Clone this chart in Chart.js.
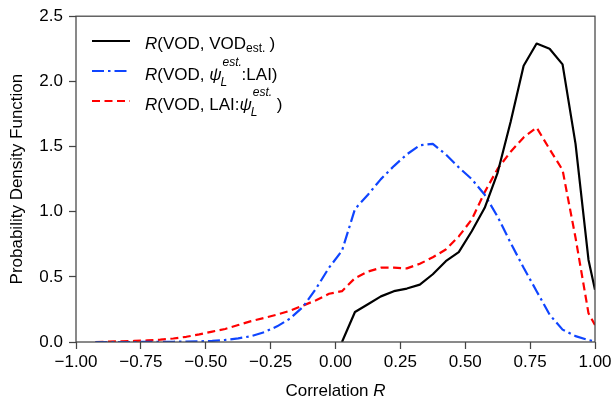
<!DOCTYPE html>
<html><head><meta charset="utf-8">
<script src="https://cdn.jsdelivr.net/npm/chart.js@4.4.0/dist/chart.umd.min.js"></script>
<style>
html,body{margin:0;padding:0;background:#fff;}
#wrap{position:relative;width:615px;height:400px;overflow:hidden;}
#c{position:absolute;left:0;top:0;}
.txt{position:absolute;font-family:'Liberation Sans',Arial,sans-serif;font-size:17px;line-height:20px;color:#000;white-space:nowrap;}
.smp{position:absolute;}
.ss{display:inline-block;position:relative;width:20px;height:10px;}
.ss span{position:absolute;left:0;font-size:12px;line-height:12px;font-style:italic;}
.ss .up{top:-14px;left:1px;}
.ss .dn{top:6px;left:-1px;}
.sb{font-size:12px;position:relative;top:3px;margin-right:4px;}
</style></head>
<body>
<div id="wrap">
<canvas id="c" width="615" height="400"></canvas>
<div id="legend"></div>
<div class="txt" style="left:76px;width:519px;top:381px;text-align:center;">Correlation <i>R</i></div>
</div>
<script>
// ---- data ----
const xs = [-0.925,-0.875,-0.825,-0.775,-0.725,-0.675,-0.625,-0.575,-0.525,-0.475,
            -0.425,-0.375,-0.325,-0.275,-0.225,-0.175,-0.125,-0.075,-0.025,0.025,
            0.075,0.125,0.175,0.225,0.275,0.325,0.375,0.425,0.475,0.525,
            0.575,0.625,0.675,0.725,0.775,0.825,0.875,0.925,0.975,1.0];
const rVodEst = [null,null,null,null,null,null,null,null,null,null,
                 null,null,null,null,null,null,null,null,null,0.0,
                 0.23,0.29,0.35,0.39,0.41,0.44,0.52,0.62,0.69,0.85,
                 1.03,1.30,1.69,2.12,2.29,2.25,2.13,1.52,0.63,0.40];
const rPsiLai = [0,0,0,0,0.001,0.001,0.002,0.003,0.005,0.009,
                 0.016,0.028,0.045,0.075,0.12,0.18,0.27,0.41,0.57,0.70,
                 1.02,1.13,1.25,1.35,1.44,1.51,1.52,1.44,1.34,1.25,
                 1.13,0.96,0.76,0.57,0.39,0.21,0.095,0.045,0.015,0.005];
const rLaiPsi = [0,0.003,0.005,0.008,0.012,0.018,0.027,0.04,0.058,0.08,
                 0.10,0.13,0.16,0.185,0.21,0.24,0.28,0.32,0.37,0.39,
                 0.49,0.54,0.57,0.57,0.565,0.60,0.65,0.71,0.81,0.94,
                 1.15,1.33,1.46,1.57,1.645,1.48,1.32,0.80,0.22,0.13];
const xTicks = [-1,-0.75,-0.5,-0.25,0,0.25,0.5,0.75,1];
const yTicks = [0,0.5,1.0,1.5,2.0,2.5];
const seriesNames = ['R(VOD, VODest.)','R(VOD, ψL est.:LAI)','R(VOD, LAI:ψL est.)'];
const seriesHtml = [
  '<i>R</i>(VOD, VOD<span class="sb">est.</span>)',
  '<i>R</i>(VOD, <i>ψ</i><span class="ss"><span class="up">est.</span><span class="dn">L</span></span>:LAI)',
  '<i>R</i>(VOD, LAI:<i>ψ</i><span class="ss" style="margin-right:5px"><span class="up">est.</span><span class="dn">L</span></span>)'
];
// ---- styles ----
const colors = ['#000000','#0f45ff','#ff0000'];
const dashes = [[], [12,4,2.5,4], [8,4.5]];
const FONT = "'Liberation Sans', Arial, sans-serif";
const AX = '#444444';
const seriesVals = [rVodEst, rPsiLai, rLaiPsi];
const fmtX = v => (v < 0 ? '\u2212' : '') + Math.abs(v).toFixed(2);

const frame = {
  id:'frame',
  afterDraw(chart){
    const {ctx, chartArea:a} = chart;
    ctx.save();
    ctx.strokeStyle = AX; ctx.lineWidth = 1.25;
    ctx.strokeRect(a.left, a.top, a.right - a.left, a.bottom - a.top);
    ctx.restore();
  }
};

new Chart(document.getElementById('c'), {
  type:'scatter',
  data:{datasets: seriesVals.map((vals,i)=>({
    label: seriesNames[i],
    data: xs.map((x,j)=>({x:x, y:vals[j]})).filter(p=>p.y!==null),
    showLine:true, borderColor:colors[i], backgroundColor:colors[i],
    borderWidth:2.2, borderDash:dashes[i], borderJoinStyle:'round',
    pointRadius:0, pointHoverRadius:0, tension:0, fill:false
  }))},
  options:{
    responsive:false, animation:false, devicePixelRatio:1,
    layout:{padding:{left:0,right:20,top:16,bottom:0}},
    plugins:{legend:{display:false}, tooltip:{enabled:false}},
    scales:{
      x:{type:'linear', min:-1, max:1,
        afterFit(s){ s.height = 58; },
        afterBuildTicks(s){ s.ticks = xTicks.map(v=>({value:v})); },
        ticks:{callback:v=>fmtX(v), font:{family:FONT,size:17}, color:'#000', padding:3, maxRotation:0, minRotation:0, autoSkip:false},
        grid:{display:true, drawOnChartArea:false, drawTicks:true, tickLength:7, tickWidth:1.25, tickColor:AX},
        border:{display:false}
      },
      y:{type:'linear', min:0, max:2.5,
        afterFit(s){ s.width = 76; },
        afterBuildTicks(s){ s.ticks = yTicks.map(v=>({value:v})); },
        ticks:{callback:v=>v.toFixed(1), font:{family:FONT,size:17}, color:'#000', padding:6, autoSkip:false},
        grid:{display:true, drawOnChartArea:false, drawTicks:true, tickLength:7, tickWidth:1.25, tickColor:AX},
        border:{display:false},
        title:{display:true, text:'Probability Density Function', font:{family:FONT,size:17,lineHeight:1.2}, color:'#000', padding:{top:7,bottom:0}}
      }
    }
  },
  plugins:[frame]
});

// ---- legend (HTML text, samples as SVG) ----
const lg = document.getElementById('legend');
const baselines = [50, 80.7, 110.7];
seriesHtml.forEach((h,i)=>{
  const sy = baselines[i] - 9.5;
  const svg = document.createElementNS('http://www.w3.org/2000/svg','svg');
  svg.setAttribute('class','smp'); svg.setAttribute('width','40'); svg.setAttribute('height','10');
  svg.style.left = '92px'; svg.style.top = (sy - 5) + 'px';
  const ln = document.createElementNS('http://www.w3.org/2000/svg','line');
  ln.setAttribute('x1','0'); ln.setAttribute('x2','38'); ln.setAttribute('y1','5'); ln.setAttribute('y2','5');
  ln.setAttribute('stroke', colors[i]); ln.setAttribute('stroke-width','2.2');
  if (dashes[i].length) ln.setAttribute('stroke-dasharray', dashes[i].join(' '));
  svg.appendChild(ln); lg.appendChild(svg);
  const t = document.createElement('div');
  t.className = 'txt'; t.style.left = '145px'; t.style.top = (baselines[i] - 15.9) + 'px';
  t.innerHTML = h; lg.appendChild(t);
});
</script>
</body></html>
